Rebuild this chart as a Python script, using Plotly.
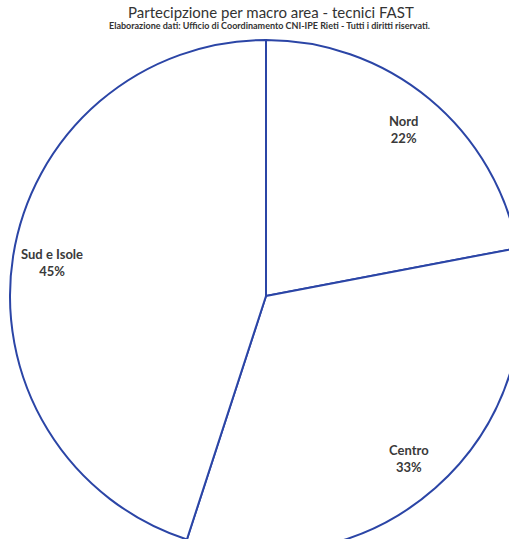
import math
import plotly.graph_objects as go

categories = ["Nord", "Centro", "Sud e Isole"]
values = [22, 33, 45]

title_text = "Partecipzione per macro area - tecnici FAST"
subtitle_text = "Elaborazione dati: Ufficio di Coordinamento CNI-IPE Rieti - Tutti i diritti riservati."

W, H = 532, 560
L, R, T, B = 10, 10, 40, 8

fig = go.Figure(go.Pie(
    labels=categories,
    values=values,
    sort=False,
    direction="clockwise",
    rotation=0,
    textinfo="none",
    hoverinfo="label+percent",
    marker=dict(colors=["white"] * len(values), line=dict(color="#2B45A6", width=2)),
    showlegend=False,
    domain=dict(x=[0, 1], y=[0, 1]),
))

# labels near the outer part of each slice, positioned from the data
total = sum(values)
pw, ph = W - L - R, H - T - B
cx, cy = 0.5, 0.5
rad = min(pw, ph) / 2
cum = 0
for c, v in zip(categories, values):
    mid = (cum + v / 2) / total * 2 * math.pi
    cum += v
    d = 0.845 * rad
    fig.add_annotation(
        x=cx + d * math.sin(mid) / pw, y=cy + d * math.cos(mid) / ph,
        xref="paper", yref="paper", showarrow=False,
        xanchor="center", yanchor="middle",
        text=f"<b>{c}<br>{round(v / total * 100)}%</b>",
        font=dict(family="Lato", size=13, color="#3a3a3a"),
        align="center",
    )

fig.add_annotation(
    x=0.5 + 5 / pw, y=1 + (T - 12) / ph, xref="paper", yref="paper", showarrow=False,
    xanchor="center", yanchor="middle",
    text=title_text,
    font=dict(family="Lato", size=15, color="#333333"),
)
fig.add_annotation(
    x=0.5 + 3 / pw, y=1 + (T - 25) / ph, xref="paper", yref="paper", showarrow=False,
    xanchor="center", yanchor="middle",
    text=f"<b>{subtitle_text}</b>",
    font=dict(family="Lato", size=9, color="#333333"),
)

fig.update_layout(
    width=W, height=H,
    margin=dict(l=L, r=R, t=T, b=B),
    paper_bgcolor="white",
)

fig.write_html("out.html", post_script="document.body.style.overflow='hidden';document.body.style.margin='0';")
